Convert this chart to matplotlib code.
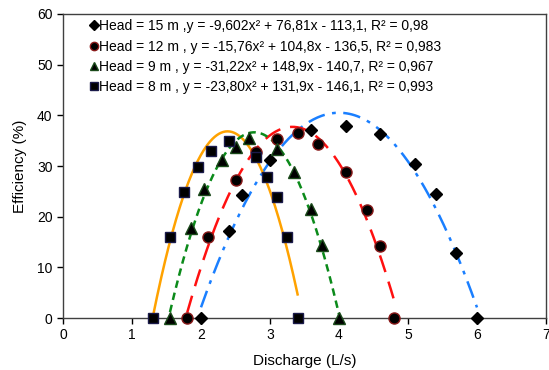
import numpy as np
import matplotlib
matplotlib.use("Agg")
import matplotlib.pyplot as plt

plt.rcParams['font.family'] = ['Liberation Sans', 'DejaVu Sans']

# Measured points: discharge (L/s) and efficiency (%)
q15 = [2.0, 2.4, 2.6, 3.0, 3.6, 4.1, 4.6, 5.1, 5.4, 5.7, 6.0]
e15 = [0.0, 17.2, 24.2, 31.2, 37.1, 37.9, 36.3, 30.4, 24.4, 12.9, 0.0]

q12 = [1.8, 2.1, 2.5, 2.8, 3.1, 3.4, 3.7, 4.1, 4.4, 4.6, 4.8]
e12 = [0.0, 16.0, 27.2, 32.8, 35.4, 36.6, 34.3, 28.9, 21.4, 14.3, 0.0]

q9 = [1.55, 1.85, 2.05, 2.3, 2.5, 2.7, 3.1, 3.35, 3.6, 3.75, 4.0]
e9 = [0.0, 17.7, 25.4, 31.2, 33.8, 35.6, 33.3, 28.9, 21.5, 14.5, 0.0]

q8 = [1.3, 1.55, 1.75, 1.95, 2.15, 2.4, 2.8, 2.95, 3.1, 3.25, 3.4]
e8 = [0.0, 15.9, 24.8, 29.8, 32.9, 34.9, 31.8, 27.8, 23.8, 15.9, 0.0]

# Quadratic trend lines (a, b, c) and their x ranges
fit_blue = (-9.602, 76.81, -113.1)
fit_red = (-15.76, 104.8, -136.5)
fit_orange = (-31.22, 148.9, -140.7)
fit_green = (-23.80, 131.9, -146.1)
range_blue = (2.0, 6.0)
range_red = (1.8, 4.8)
range_orange = (1.3, 3.4)
range_green = (1.55, 4.0)

labels = [
    "Head = 15 m ,y = -9,602x\u00b2 + 76,81x - 113,1, R\u00b2 = 0,98",
    "Head = 12 m , y = -15,76x\u00b2 + 104,8x - 136,5, R\u00b2 = 0,983",
    "Head = 9 m , y = -31,22x\u00b2 + 148,9x - 140,7, R\u00b2 = 0,967",
    "Head = 8 m , y = -23,80x\u00b2 + 131,9x - 146,1, R\u00b2 = 0,993",
]

fig = plt.figure(figsize=(5.49, 3.70), dpi=100)
ax = fig.add_axes([0.1148, 0.1405, 0.8797, 0.8217])


def trend(fit, rng, **kw):
    x = np.linspace(rng[0], rng[1], 200)
    a, b, c = fit
    ax.plot(x, a * x**2 + b * x + c, **kw)


trend(fit_blue, range_blue, color='#1a7fff', lw=1.8, dashes=(7, 3, 1.5, 3), zorder=2)
trend(fit_red, range_red, color='#ff1010', lw=1.8, dashes=(7, 4), zorder=2)
trend(fit_orange, range_orange, color='#ffa200', lw=1.8, zorder=2)
trend(fit_green, range_green, color='#0b8a1a', lw=1.8, dashes=(3, 2), zorder=2)

h1, = ax.plot(q15, e15, 'D', ms=6.5, color='black', mec='black', ls='none', clip_on=False, zorder=3)
h2, = ax.plot(q12, e12, 'o', ms=8, color='black', mec='#8a1a1a', ls='none', clip_on=False, zorder=3)
h3, = ax.plot(q9, e9, '^', ms=8, color='black', mec='#1a4a1a', ls='none', clip_on=False, zorder=3)
h4, = ax.plot(q8, e8, 's', ms=7, color='black', mec='#1a1a4a', ls='none', clip_on=False, zorder=3)

leg = ax.legend([h1, h2, h3, h4], labels, loc='upper left', bbox_to_anchor=(0.038, 1.01),
                frameon=False, fontsize=10, handlelength=0.6, handletextpad=0.1,
                labelspacing=0.45, markerscale=0.75, borderaxespad=0.2)

ax.set_xlim(0, 7)
ax.set_ylim(0, 60)
ax.set_xticks(range(0, 8))
ax.set_yticks(range(0, 61, 10))
ax.tick_params(direction='out', length=4, width=1, labelsize=10, colors='black')
for s in ax.spines.values():
    s.set_color('#404040')
    s.set_linewidth(1)

ax.set_xlabel('Discharge (L/s)', fontsize=11, labelpad=8)
ax.set_ylabel('Efficiency (%)', fontsize=11, labelpad=7)

fig.savefig('out.png', dpi=100)
